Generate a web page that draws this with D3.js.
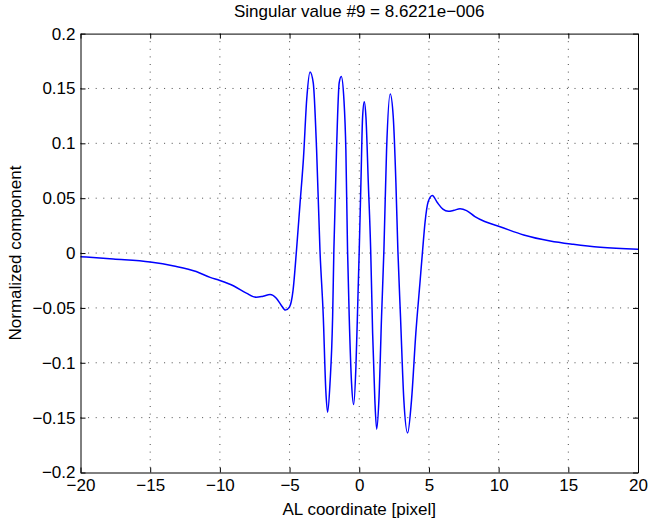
<!DOCTYPE html>
<html>
<head>
<meta charset="utf-8">
<script src="https://cdn.jsdelivr.net/npm/d3@7"></script>
<style>
  body { margin: 0; background: #fff; }
  svg text { font-family: "Liberation Sans", Arial, Helvetica, sans-serif; fill: #000; }
</style>
</head>
<body>
<div class="chart"></div>
<script>
// curve: AL coordinate (pixel) and normalized component
var alCoord = [-20, -17.65, -15, -13.3, -11.7, -10.7, -10, -9, -8.1, -7.4, -6.9, -6.4, -5.95, -5.6, -5.3, -5, -4.75, -4.5, -4.25, -4, -3.77, -3.53, -3.3, -3.06, -2.82,
  -2.58, -2.4, -2.27, -2.1, -1.91, -1.82, -1.63, -1.44, -1.29, -1.1, -0.96, -0.84, -0.72, -0.55, -0.4, -0.24, -0.1, 0,
  0.12, 0.24, 0.36, 0.48, 0.65, 0.82, 0.96, 1.12, 1.25, 1.41, 1.6, 1.77, 1.96, 2.22, 2.44, 2.63, 2.77,
  2.96, 3.2, 3.47, 3.75, 4.06, 4.35, 4.55, 4.72, 4.95, 5.24, 5.6, 6, 6.39, 6.8, 7.23, 7.7, 8.3, 9, 10.1, 11.8, 13.7, 15.35, 17.3, 20];
var component = [-0.0033, -0.0055, -0.0082, -0.0118, -0.0168, -0.0222, -0.025, -0.03, -0.0365, -0.0403, -0.0393, -0.0378, -0.0412, -0.0475, -0.052, -0.049, -0.034, 0.003, 0.045, 0.087, 0.14, 0.165, 0.155, 0.094, 0.003,
  -0.058, -0.125, -0.145, -0.119, -0.058, 0.003, 0.094, 0.155, 0.161, 0.14, 0.094, 0.003, -0.058, -0.119, -0.138, -0.104, -0.043, 0.003,
  0.064, 0.124, 0.138, 0.124, 0.064, 0.003, -0.073, -0.134, -0.1605, -0.134, -0.058, 0.003, 0.094, 0.145, 0.124, 0.064, 0.003,
  -0.058, -0.134, -0.164, -0.134, -0.073, -0.028, 0.003, 0.028, 0.047, 0.0525, 0.046, 0.04, 0.038, 0.039, 0.0403, 0.0387, 0.0332, 0.0287, 0.024, 0.0165, 0.011, 0.008, 0.0053, 0.0035];
var xTicks = [-20, -15, -10, -5, 0, 5, 10, 15, 20];
var yTicks = [-0.2, -0.15, -0.1, -0.05, 0, 0.05, 0.1, 0.15, 0.2];
var titleText = "Singular value #9 = 8.6221e\u2212006";

var W = 648, H = 524;
var pLeft = 80.5, pRight = 638, pTop = 33.6, pBottom = 472.5; // plot box ("top" is taken by window)
var fontSize = 17;
var tickLen = 5;

var svg = d3.select(".chart").append("svg")
    .attr("width", W)
    .attr("height", H);

var xScale = d3.scaleLinear().domain([-20, 20]).range([pLeft, pRight]);
var yScale = d3.scaleLinear().domain([-0.2, 0.2]).range([pBottom, pTop]);

var fmt = function(d) { return d3.format("")(d).replace("-", "\u2212"); };

// dotted grid
svg.selectAll(".vgrid")
    .data(xTicks.slice(1, -1))
    .enter()
    .append("line")
    .attr("class", "vgrid")
    .attr("x1", d => xScale(d)).attr("x2", d => xScale(d))
    .attr("y1", pTop).attr("y2", pBottom)
    .attr("stroke", "#000").attr("stroke-width", 1)
    .attr("stroke-dasharray", "1,6.6")
    .attr("opacity", 0.7);
svg.selectAll(".hgrid")
    .data(yTicks.slice(1, -1))
    .enter()
    .append("line")
    .attr("class", "hgrid")
    .attr("x1", pLeft).attr("x2", pRight)
    .attr("y1", d => yScale(d)).attr("y2", d => yScale(d))
    .attr("stroke", "#000").attr("stroke-width", 1)
    .attr("stroke-dasharray", "1,6.6")
    .attr("opacity", 0.7);

// the curve
var line = d3.line()
    .x((d, i) => xScale(alCoord[i]))
    .y(d => yScale(d))
    .curve(d3.curveMonotoneX);
svg.append("path")
    .datum(component)
    .attr("d", line)
    .attr("fill", "none")
    .attr("stroke", "#0000ff")
    .attr("stroke-width", 1.5);

// axes, ticks inside on all four sides
var xAxisB = d3.axisBottom(xScale).tickValues(xTicks).tickSizeInner(-tickLen).tickSizeOuter(0).tickPadding(6).tickFormat(fmt);
var xAxisT = d3.axisTop(xScale).tickValues(xTicks).tickSizeInner(-tickLen).tickSizeOuter(0).tickFormat("");
var yAxisL = d3.axisLeft(yScale).tickValues(yTicks).tickSizeInner(-tickLen).tickSizeOuter(0).tickPadding(5).tickFormat(fmt);
var yAxisR = d3.axisRight(yScale).tickValues(yTicks).tickSizeInner(-tickLen).tickSizeOuter(0).tickFormat("");

svg.append("g").attr("class", "xAxis").attr("transform", `translate(0,${pBottom})`).call(xAxisB);
svg.append("g").attr("transform", `translate(0,${pTop})`).call(xAxisT);
svg.append("g").attr("class", "yAxis").attr("transform", `translate(${pLeft},0)`).call(yAxisL);
svg.append("g").attr("transform", `translate(${pRight},0)`).call(yAxisR);

svg.selectAll(".domain").attr("stroke", "#000").attr("stroke-width", 1);
svg.selectAll(".tick line").attr("stroke", "#000");
svg.selectAll(".tick text").attr("font-size", fontSize).attr("fill", "#000")
    .style("font-family", "'Liberation Sans', Arial, sans-serif");

// titles
svg.append("text")
    .attr("x", (pLeft + pRight) / 2)
    .attr("y", 17)
    .attr("text-anchor", "middle")
    .attr("font-size", fontSize)
    .text(titleText);
svg.append("text")
    .attr("x", (pLeft + pRight) / 2)
    .attr("y", 515)
    .attr("text-anchor", "middle")
    .attr("font-size", fontSize)
    .text("AL coordinate [pixel]");
svg.append("text")
    .attr("transform", `translate(21,${(pTop + pBottom) / 2}) rotate(-90)`)
    .attr("text-anchor", "middle")
    .attr("font-size", fontSize)
    .text("Normalized component");
</script>
</body>
</html>
